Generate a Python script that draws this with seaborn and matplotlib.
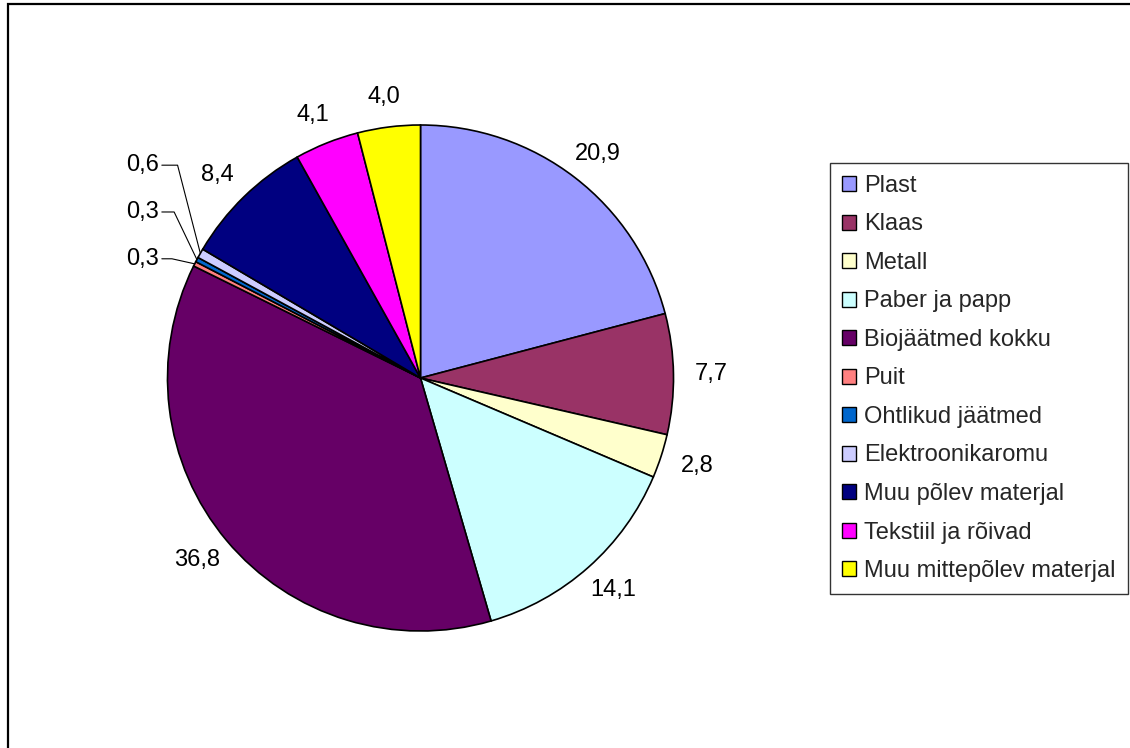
import numpy as np
import matplotlib.pyplot as plt
from matplotlib.patches import Patch, Rectangle
import seaborn as sns

categories = ['Plast', 'Klaas', 'Metall', 'Paber ja papp', 'Biojäätmed kokku', 'Puit',
              'Ohtlikud jäätmed', 'Elektroonikaromu', 'Muu põlev materjal',
              'Tekstiil ja rõivad', 'Muu mittepõlev materjal']
shares = [20.9, 7.7, 2.8, 14.1, 36.8, 0.3, 0.3, 0.6, 8.4, 4.1, 4.0]
colors = ['#9999FF', '#993366', '#FFFFCC', '#CCFFFF', '#660066', '#FF8080',
          '#0066CC', '#CCCCFF', '#000080', '#FF00FF', '#FFFF00']

sns.set_theme(style='white')
plt.rcParams['font.family'] = ['Liberation Sans', 'DejaVu Sans']

W, H = 1130, 748
fig = plt.figure(figsize=(W / 100, H / 100), dpi=100)
fig.patch.set_facecolor('white')

# pie centre and radius in pixels
cx, cy, r = 420.5, 378, 253
half = 300
ax = fig.add_axes([(cx - half) / W, (H - cy - half) / H, 2 * half / W, 2 * half / H])
wedges, _ = ax.pie(shares, colors=colors, startangle=90, counterclock=False,
                   wedgeprops=dict(edgecolor='black', linewidth=1.2))
lim = half / r
ax.set_xlim(-lim, lim)
ax.set_ylim(-lim, lim)
ax.axis('off')

fs = 17
small = []
for w, v in zip(wedges, shares):
    ang = np.deg2rad((w.theta1 + w.theta2) / 2)
    dx, dy = np.cos(ang), np.sin(ang)
    txt = f'{v:.1f}'.replace('.', ',')
    if v < 1:
        small.append((dx, dy, txt))
        continue
    ax.text(1.1 * dx + 0.05 * dx, 1.1 * dy + 0.02 * dy, txt, ha='center', va='center',
            fontsize=fs, color='black')

# tiny slices: stacked labels with leader lines
base_x, base_y = small[0][0], small[0][1]
for k, (dx, dy, txt) in enumerate(small):
    ly = base_y + 0.02 + k * 0.185
    lx = base_x - 0.14
    ax.text(lx, ly, txt, ha='right', va='center', fontsize=fs, color='black')
    ax.plot([lx + 0.01, dx - 0.09, dx], [ly, ly, dy], color='black', lw=0.8,
            clip_on=False)

handles = [Patch(facecolor=c, edgecolor='black', linewidth=1) for c in colors]
leg = fig.legend(handles, categories, loc='upper left',
                 bbox_to_anchor=(830 / W, 1 - 163 / H), bbox_transform=fig.transFigure,
                 borderaxespad=0, frameon=True, fancybox=False, edgecolor='black',
                 fontsize=fs, handlelength=0.6, handleheight=0.6, handletextpad=0.35,
                 labelspacing=0.7, borderpad=0.5)
leg.get_frame().set_linewidth(1)

# outer chart border (right and bottom edges fall outside the picture)
fig.add_artist(Rectangle((8 / W, -0.05), 1.1, 1 - 4 / H + 0.05, transform=fig.transFigure,
                         fill=False, edgecolor='black', linewidth=1.6))

fig.savefig('out.png', dpi=100)
